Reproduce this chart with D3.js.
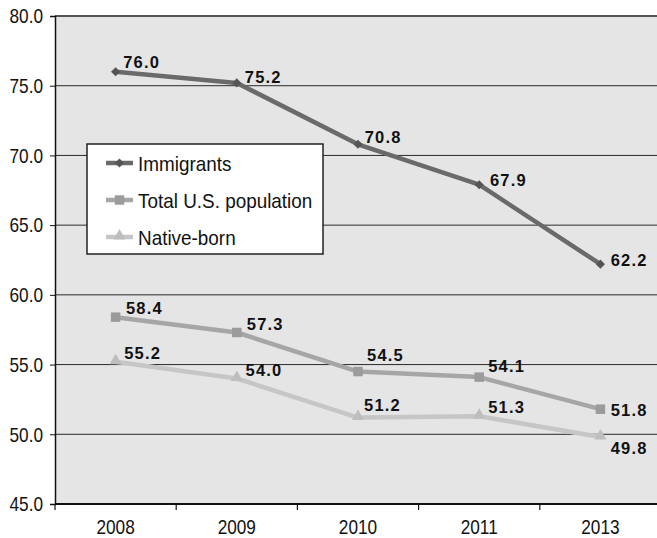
<!DOCTYPE html>
<html>
<head>
<meta charset="utf-8">
<script src="https://cdn.jsdelivr.net/npm/d3@7"></script>
<style>
  body { margin: 0; background: #fff; }
  svg { display: block; }
</style>
</head>
<body>
<svg id="chart" width="657" height="538"></svg>
<script>
// Survey values by year
const years = ["2008", "2009", "2010", "2011", "2013"];
const immigrants = [76.0, 75.2, 70.8, 67.9, 62.2];
const totalPopulation = [58.4, 57.3, 54.5, 54.1, 51.8];
const nativeBorn = [55.2, 54.0, 51.2, 51.3, 49.8];
const seriesNames = ["Immigrants", "Total U.S. population", "Native-born"];
const yTickValues = [45, 50, 55, 60, 65, 70, 75, 80];

// Label nudges (dx, dy) from each point, per series
const immigrantLabelNudge = [[7.6, -3.5], [8, 0.4], [6.7, -1], [10.7, 1.3], [10.3, 2]];
const totalLabelNudge = [[10.3, -3], [10, -2.5], [9, -10.5], [9, -5.4], [10.3, 6.5]];
const nativeLabelNudge = [[8.6, -2.8], [8.7, -2.5], [6, -6.6], [9, -3], [10.3, 17]];

const series = [
  { name: seriesNames[0], values: immigrants, nudge: immigrantLabelNudge,
    line: "#6a6a6a", fill: "#555555", symbol: "diamond" },
  { name: seriesNames[1], values: totalPopulation, nudge: totalLabelNudge,
    line: "#a6a6a6", fill: "#9b9b9b", symbol: "square" },
  { name: seriesNames[2], values: nativeBorn, nudge: nativeLabelNudge,
    line: "#c6c6c6", fill: "#bebebe", symbol: "triangle" }
];

const svg = d3.select("#chart");
const plot = { left: 55, top: 16, right: 661, bottom: 504 };

const x = d3.scaleBand().domain(years).range([plot.left, plot.right]);
const cx = d => x(d) + x.bandwidth() / 2;
const y = d3.scaleLinear().domain([45, 80]).range([plot.bottom, plot.top]);

const sans = "'Liberation Sans', Arial, sans-serif";

// horizontally condensed text: scale glyphs, keep anchor position
function condense(sel, factor) {
  sel.each(function () {
    const t = d3.select(this);
    const x0 = +(t.attr("x") || 0);
    t.attr("x", x0 / factor).attr("transform", `scale(${factor},1)`);
  });
}

// plot background
svg.append("rect")
  .attr("x", plot.left).attr("y", plot.top)
  .attr("width", plot.right - plot.left).attr("height", plot.bottom - plot.top)
  .attr("fill", "#e5e5e5");

// horizontal gridlines
svg.append("g").selectAll("line")
  .data(yTickValues.filter(v => v > 45 && v < 80))
  .join("line")
  .attr("x1", plot.left).attr("x2", plot.right)
  .attr("y1", d => y(d)).attr("y2", d => y(d))
  .attr("stroke", "#2a2a2a").attr("stroke-width", 1);

// top border of plot area
svg.append("line")
  .attr("x1", plot.left).attr("x2", plot.right)
  .attr("y1", y(80)).attr("y2", y(80))
  .attr("stroke", "#555").attr("stroke-width", 2);

// y axis
const yAxis = svg.append("g")
  .attr("transform", `translate(${plot.left},0)`)
  .call(d3.axisLeft(y).tickValues(yTickValues).tickSize(5).tickPadding(7)
    .tickFormat(d3.format(".1f")));
yAxis.select(".domain").attr("stroke", "#111").attr("stroke-width", 1.5);
yAxis.selectAll(".tick line").attr("stroke", "#111");
yAxis.selectAll("text")
  .attr("font-family", sans).attr("font-size", 21).attr("fill", "#111")
  .call(condense, 0.82);

// x axis: labels at band centres, ticks at band edges
const xAxis = svg.append("g")
  .attr("transform", `translate(0,${plot.bottom})`)
  .call(d3.axisBottom(x).tickSize(0).tickPadding(15));
xAxis.select(".domain").remove();
xAxis.selectAll("text")
  .attr("font-family", sans).attr("font-size", 21).attr("fill", "#111")
  .call(condense, 0.82);

const edges = years.map(d => x(d)).concat([plot.right]);
svg.append("g").selectAll("line")
  .data(edges)
  .join("line")
  .attr("x1", d => d).attr("x2", d => d)
  .attr("y1", plot.bottom).attr("y2", plot.bottom + 6)
  .attr("stroke", "#111").attr("stroke-width", 1.2);
svg.append("line")
  .attr("x1", plot.left).attr("x2", plot.right)
  .attr("y1", plot.bottom).attr("y2", plot.bottom)
  .attr("stroke", "#111").attr("stroke-width", 2);

// marker shapes
function marker(sel, kind, color) {
  if (kind === "diamond") {
    sel.append("path")
      .attr("d", d3.symbol(d3.symbolSquare, 42)())
      .attr("transform", "rotate(45)")
      .attr("fill", color);
  } else if (kind === "square") {
    sel.append("path")
      .attr("d", d3.symbol(d3.symbolSquare, 90)())
      .attr("fill", color);
  } else {
    sel.append("path")
      .attr("d", d3.symbol(d3.symbolTriangle, 64)())
      .attr("transform", "translate(0,-1)")
      .attr("fill", color);
  }
}

const line = d3.line()
  .x((v, i) => cx(years[i]))
  .y(v => y(v));

// draw series back to front
[...series].reverse().forEach(s => {
  const g = svg.append("g");
  g.append("path")
    .attr("d", line(s.values))
    .attr("fill", "none")
    .attr("stroke", s.line)
    .attr("stroke-width", 4.5)
    .attr("stroke-linejoin", "round");
  s.values.forEach((v, i) => {
    const m = g.append("g").attr("transform", `translate(${cx(years[i])},${y(v)})`);
    marker(m, s.symbol, s.fill);
  });
});

// value labels
series.forEach(s => {
  svg.append("g").selectAll("text")
    .data(s.values)
    .join("text")
    .attr("x", (v, i) => cx(years[i]) + s.nudge[i][0])
    .attr("y", (v, i) => y(v) + s.nudge[i][1])
    .attr("font-family", sans)
    .attr("font-weight", "bold")
    .attr("font-size", 16.5)
    .attr("letter-spacing", 1.2)
    .attr("fill", "#111")
    .text(v => v.toFixed(1));
});

// legend
const legend = svg.append("g");
legend.append("rect")
  .attr("x", 87).attr("y", 144).attr("width", 236).attr("height", 110)
  .attr("fill", "#fff").attr("stroke", "#222").attr("stroke-width", 1.5);
series.forEach((s, i) => {
  const row = legend.append("g").attr("transform", `translate(0,${163 + i * 37})`);
  row.append("line")
    .attr("x1", 106).attr("x2", 133).attr("y1", 0).attr("y2", 0)
    .attr("stroke", s.line).attr("stroke-width", 4.5);
  marker(row.append("g").attr("transform", "translate(119.5,0)"), s.symbol, s.fill);
  row.append("text")
    .attr("x", 138).attr("y", 7.5)
    .attr("font-family", sans).attr("font-size", 21)
    .attr("fill", "#111")
    .text(s.name)
    .call(condense, 0.9);
});
</script>
</body>
</html>
